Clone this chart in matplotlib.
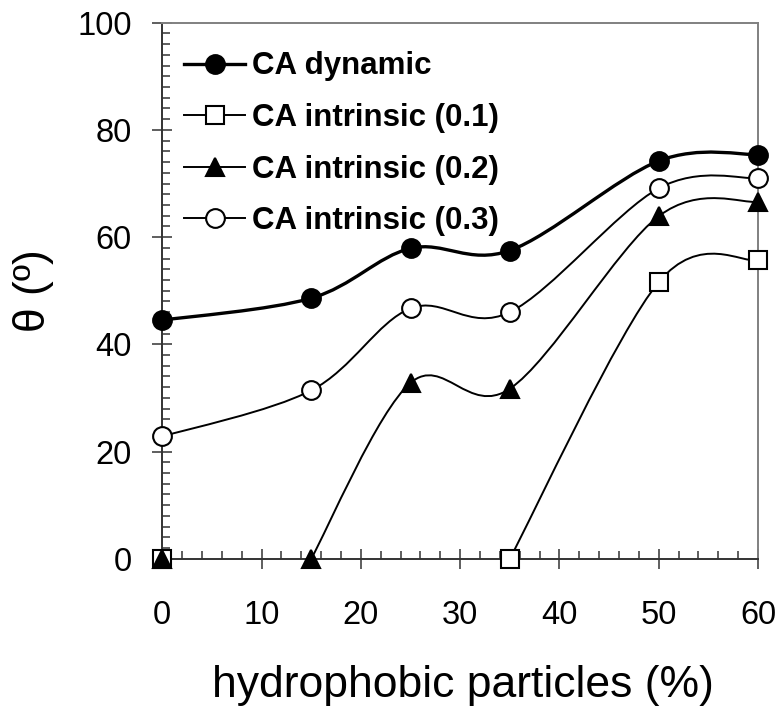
import numpy as np
import matplotlib
matplotlib.use("Agg")
import matplotlib.pyplot as plt
from matplotlib.path import Path
from matplotlib.patches import PathPatch
from matplotlib.lines import Line2D
from matplotlib.ticker import MultipleLocator

# contact angle vs. hydrophobic particle content
x_dynamic = [0, 15, 25, 35, 50, 60]
ca_dynamic = [44.5, 48.6, 57.9, 57.5, 74.2, 75.4]

x_01 = [0, 35, 50, 60]
ca_01 = [0, 0, 51.6, 55.7]

x_02 = [0, 15, 25, 35, 50, 60]
ca_02 = [0, 0, 32.8, 31.7, 63.9, 66.6]

x_03 = [0, 15, 25, 35, 50, 60]
ca_03 = [22.8, 31.4, 46.7, 46.0, 69.1, 71.0]

labels = ["CA dynamic", "CA intrinsic (0.1)", "CA intrinsic (0.2)", "CA intrinsic (0.3)"]

plt.rcParams['font.family'] = ['Liberation Sans', 'DejaVu Sans']


def smooth_path(xs, ys):
    # cubic bezier through the points, spreadsheet-style smoothing
    pts = np.column_stack([xs, ys]).astype(float)
    n = len(pts)
    verts = [pts[0]]
    codes = [Path.MOVETO]
    for i in range(n - 1):
        p_prev = pts[max(i - 1, 0)]
        p_next = pts[min(i + 2, n - 1)]
        c1 = pts[i] + (pts[i + 1] - p_prev) / 6
        c2 = pts[i + 1] - (p_next - pts[i]) / 6
        verts += [c1, c2, pts[i + 1]]
        codes += [Path.CURVE4] * 3
    return Path(verts, codes)


fig = plt.figure(figsize=(7.79, 7.07), dpi=100)
W, H = 779, 707
left, right, top, bottom = 162.3, 758, 22.7, 558.7
ax = fig.add_axes([left / W, 1 - bottom / H, (right - left) / W, (bottom - top) / H])

# (x, y, line width, marker, fill, index where the curve starts)
series = [
    (x_dynamic, ca_dynamic, 2.4, 'o', 'black', 0),
    (x_01, ca_01, 1.4, 's', 'white', 1),
    (x_02, ca_02, 1.4, '^', 'black', 1),
    (x_03, ca_03, 1.4, 'o', 'white', 0),
]

ms = 13.5
handles = []
for (xs, ys, lw, mk, fc, start), lab in zip(series, labels):
    ax.add_patch(PathPatch(smooth_path(xs[start:], ys[start:]), fill=False,
                           edgecolor='black', lw=lw, zorder=2))
    ax.plot(xs, ys, ls='none', marker=mk, ms=ms, mfc=fc,
            mec='black', mew=1.5, zorder=4, clip_on=False)
    handles.append(Line2D([], [], color='black', lw=lw, marker=mk,
                          ms=ms, mfc=fc, mec='black', mew=1.5))

ax.set_xlim(0, 60)
ax.set_ylim(0, 100)
ax.xaxis.set_major_locator(MultipleLocator(10))
ax.xaxis.set_minor_locator(MultipleLocator(2))
ax.yaxis.set_major_locator(MultipleLocator(20))
ax.yaxis.set_minor_locator(MultipleLocator(2))

ax.tick_params(which='major', direction='inout', length=14, width=1.1, color='#333333',
               labelsize=23.5)
ax.tick_params(axis='x', which='major', pad=23)
ax.tick_params(axis='y', which='major', pad=15)
ax.tick_params(which='minor', direction='in', length=5.8, width=1.1, color='#333333')

for side in ['left', 'bottom']:
    ax.spines[side].set_color('#333333')
    ax.spines[side].set_linewidth(1.4)
for side in ['top', 'right']:
    ax.spines[side].set_color('#808080')
    ax.spines[side].set_linewidth(1.4)

ax.legend(handles, labels, loc='upper left', bbox_to_anchor=(-0.005, 0.993),
          frameon=False, prop={'weight': 'bold', 'size': 22.5}, handlelength=1.95,
          handletextpad=0.2, labelspacing=0.69, borderaxespad=0.4)

fig.text(463 / W, 1 - 697 / H, "hydrophobic particles (%)", ha='center',
         va='baseline', fontsize=32)
fig.text(34 / W, 1 - 290.7 / H, "θ (º)", ha='center', va='center',
         rotation=90, fontsize=32)

fig.savefig("out.png", dpi=100)
